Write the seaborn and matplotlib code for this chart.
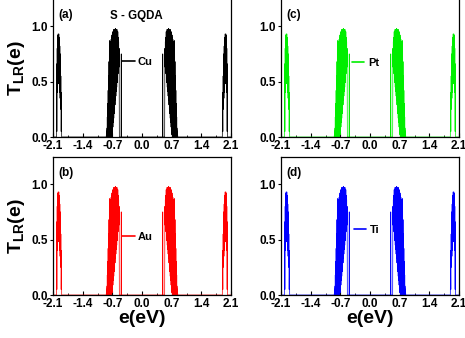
import numpy as np
import pandas as pd
import matplotlib
matplotlib.use("Agg")
import matplotlib.pyplot as plt
import seaborn as sns

# Transmission spectrum T_LR(e) of the S-GQDA junction, negative-energy half.
# Outer band near -1.95 eV (energy, transmission), read as peak/trough sequence.
outer_e = [-2.018, -2.012, -2.008, -2.002, -1.998, -1.994, -1.990, -1.986,
           -1.982, -1.978, -1.974, -1.970, -1.966, -1.962, -1.958, -1.954,
           -1.950, -1.946, -1.942, -1.938, -1.934, -1.930, -1.926, -1.922,
           -1.918, -1.914, -1.908, -1.900, -1.895]
outer_t = [0.00, 0.66, 0.05, 0.80, 0.40, 0.90, 0.45, 0.92,
           0.48, 0.93, 0.50, 0.92, 0.50, 0.93, 0.48, 0.90,
           0.45, 0.88, 0.40, 0.82, 0.35, 0.75, 0.30, 0.65,
           0.25, 0.55, 0.05, 0.40, 0.00]

# Inner band between -0.85 and -0.48 eV.
inner_e = [-0.845, -0.830, -0.825, -0.820, -0.815, -0.810, -0.805, -0.800,
           -0.795, -0.790, -0.785, -0.780, -0.775, -0.770, -0.765, -0.760,
           -0.755, -0.750, -0.745, -0.740, -0.735, -0.730, -0.725, -0.720,
           -0.715, -0.710, -0.705, -0.700, -0.695, -0.690, -0.685, -0.680,
           -0.675, -0.670, -0.665, -0.660, -0.655, -0.650, -0.645, -0.640,
           -0.635, -0.630, -0.625, -0.620, -0.615, -0.610, -0.605, -0.600,
           -0.595, -0.590, -0.585, -0.580, -0.575, -0.570, -0.565, -0.560,
           -0.555, -0.550, -0.545, -0.540, -0.535, -0.495, -0.490, -0.485]
inner_t = [0.00, 0.08, 0.00, 0.18, 0.00, 0.30, 0.00, 0.42,
           0.00, 0.55, 0.00, 0.68, 0.00, 0.87, 0.00, 0.78,
           0.00, 0.84, 0.00, 0.86, 0.00, 0.88, 0.00, 0.90,
           0.00, 0.92, 0.02, 0.93, 0.05, 0.95, 0.09, 0.93,
           0.13, 0.97, 0.17, 0.94, 0.21, 0.97, 0.25, 0.95,
           0.29, 0.98, 0.33, 0.96, 0.37, 0.97, 0.41, 0.95,
           0.45, 0.97, 0.49, 0.93, 0.53, 0.95, 0.57, 0.90,
           0.60, 0.86, 0.63, 0.80, 0.00, 0.00, 0.75, 0.00]

metals = ["Cu", "Au", "Pt", "Ti"]
colors = ["#000000", "#ff0000", "#00ee00", "#0000ff"]
panel_tags = ["(a)", "(b)", "(c)", "(d)"]

xticks = [-2.1, -1.4, -0.7, 0.0, 0.7, 1.4, 2.1]
xtick_labels = ["-2.1", "-1.4", "-0.7", "0.0", "0.7", "1.4", "2.1"]
yticks = [0.0, 0.5, 1.0]
ytick_labels = ["0.0", "0.5", "1.0"]

# Full spectrum: the positive half mirrors the negative one (e -> -e).
neg_e = np.array([-2.1] + outer_e + inner_e)
neg_t = np.array([0.0] + outer_t + inner_t)
energy = np.concatenate([neg_e, -neg_e[::-1]])
trans = np.concatenate([neg_t, neg_t[::-1]])
spectrum = pd.DataFrame({"e": energy, "T": trans})

sns.set_theme(style="ticks")
plt.rcParams["font.family"] = ["Liberation Sans", "DejaVu Sans"]
plt.rcParams["font.weight"] = "bold"
plt.rcParams["text.color"] = "black"
plt.rcParams["axes.labelcolor"] = "black"
plt.rcParams["xtick.color"] = "black"
plt.rcParams["ytick.color"] = "black"
plt.rcParams["mathtext.fontset"] = "custom"
plt.rcParams["mathtext.rm"] = "Liberation Sans:bold"
plt.rcParams["mathtext.it"] = "Liberation Sans:bold"
plt.rcParams["mathtext.bf"] = "Liberation Sans:bold"
# keep every resonance vertex of the dense spectra
plt.rcParams["path.simplify"] = False

W, H = 465, 338
fig = plt.figure(figsize=(W / 100, H / 100), dpi=100)

# axes boxes in pixels: left, top, right, bottom
boxes = {
    "(a)": (53, -1, 231, 137),
    "(b)": (53, 157, 231, 295),
    "(c)": (281, -1, 459, 137),
    "(d)": (281, 157, 459, 295),
}
legend_pos = {"(a)": (0.39, 0.545), "(b)": (0.39, 0.42),
              "(c)": (0.40, 0.535), "(d)": (0.41, 0.47)}

for metal, color, tag in zip(metals, colors, panel_tags):
    l, t, r, b = boxes[tag]
    ax = fig.add_axes([l / W, 1 - b / H, (r - l) / W, (b - t) / H])
    sns.lineplot(data=spectrum, x="e", y="T", ax=ax, color=color, lw=0.5,
                 sort=False, estimator=None, errorbar=None, label=metal)
    ax.set_xlim(-2.1, 2.1)
    ax.set_ylim(0, 1.245)
    ax.set_xticks(xticks)
    ax.set_xticklabels(xtick_labels)
    ax.set_xticks([-1.75, -1.05, -0.35, 0.35, 1.05, 1.75], minor=True)
    ax.set_yticks(yticks)
    ax.set_yticklabels(ytick_labels)
    ax.tick_params(axis="x", direction="in", length=3, width=0.8,
                   labelsize=8.5, pad=2)
    ax.tick_params(axis="x", which="minor", direction="in", length=1.8, width=0.6)
    ax.tick_params(axis="y", direction="out", length=2.5, width=0.8,
                   labelsize=8.5, pad=1)
    for lab in ax.get_xticklabels() + ax.get_yticklabels():
        lab.set_fontweight("bold")
    for sp in ax.spines.values():
        sp.set_visible(True)
        sp.set_linewidth(0.9)
        sp.set_color("black")
    ax.set_xlabel("")
    ax.set_ylabel("")
    ax.text(0.03, 0.885, tag, transform=ax.transAxes, fontsize=8.5,
            fontweight="bold", ha="left", va="center")
    leg = ax.legend(loc="center left", bbox_to_anchor=legend_pos[tag],
                    frameon=False, handlelength=1.1, handletextpad=0.3,
                    borderaxespad=0, borderpad=0,
                    prop={"weight": "bold", "size": 8})
    for h in leg.get_lines():
        h.set_linewidth(1.2)
    if tag == "(a)":
        ax.text(0.47, 0.875, "S - GQDA", transform=ax.transAxes, fontsize=8.3,
                fontweight="bold", ha="center", va="center")
    if tag in ("(a)", "(b)"):
        ax.set_ylabel(r"T$_{\mathrm{LR}}$(e)", fontsize=14, fontweight="bold",
                      labelpad=3)
    if tag in ("(b)", "(d)"):
        ax.set_xlabel("e(eV)", fontsize=14, fontweight="bold", labelpad=0)

fig.savefig("out.png", dpi=100)
